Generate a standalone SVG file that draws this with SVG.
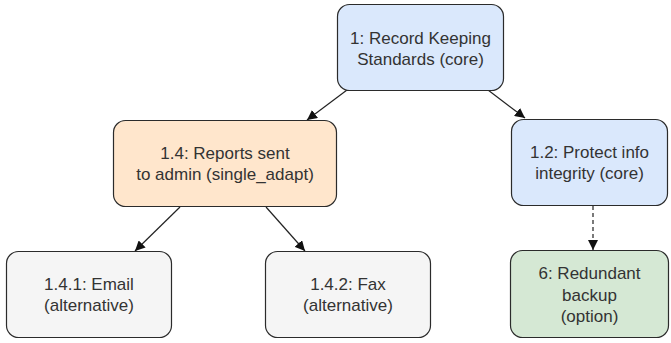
<svg xmlns="http://www.w3.org/2000/svg" width="671" height="343" viewBox="0 0 671 343">
<defs>
<style>
.n{stroke:#2b2b2b;stroke-width:1.2}
.core{fill:#dae8fc}
.adapt{fill:#ffe6cc}
.alt{fill:#f5f5f5}
.opt{fill:#d5e8d4}
text{font-family:"Liberation Sans",Arial,sans-serif;font-size:17px;fill:#333;text-anchor:middle}
.e{stroke:#222;stroke-width:1.2;fill:none;marker-end:url(#ah)}
.d{stroke-dasharray:4 3}
</style>
<marker id="ah" viewBox="0 0 10 10" refX="10" refY="5" markerWidth="10" markerHeight="10" markerUnits="userSpaceOnUse" orient="auto">
<path d="M0,0 L10,5 L0,10 Z" fill="#111"/>
</marker>
</defs>
<g id="connectors">
<path class="e" d="M347,90 L307,120"/>
<path class="e" d="M488,90 L525,118"/>
<path class="e" d="M180,207 L135,251"/>
<path class="e" d="M266,207 L305,251"/>
<path class="e d" d="M593,206 L593,250"/>
</g>
<g id="n1">
<rect class="n core" x="337.5" y="4.5" width="166" height="86" rx="12"/>
<text x="420.5" y="43.5">1: Record Keeping</text>
<text x="420.5" y="65">Standards (core)</text>
</g>
<g id="n14">
<rect class="n adapt" x="113.5" y="120.5" width="223" height="86" rx="12"/>
<text x="225" y="158.5">1.4: Reports sent</text>
<text x="225" y="180">to admin (single_adapt)</text>
</g>
<g id="n12">
<rect class="n core" x="511.5" y="119.5" width="156" height="86" rx="12"/>
<text x="589.5" y="157.5">1.2: Protect info</text>
<text x="589.5" y="179">integrity (core)</text>
</g>
<g id="n141">
<rect class="n alt" x="6.5" y="251.5" width="165" height="86" rx="12"/>
<text x="89" y="289.5">1.4.1: Email</text>
<text x="89" y="311">(alternative)</text>
</g>
<g id="n142">
<rect class="n alt" x="265.5" y="251.5" width="165" height="86" rx="12"/>
<text x="348" y="289.5">1.4.2: Fax</text>
<text x="348" y="311">(alternative)</text>
</g>
<g id="n6">
<rect class="n opt" x="510.5" y="250.5" width="158" height="87" rx="12"/>
<text x="589.5" y="279">6: Redundant</text>
<text x="589.5" y="300.5">backup</text>
<text x="589.5" y="322">(option)</text>
</g>
</svg>
